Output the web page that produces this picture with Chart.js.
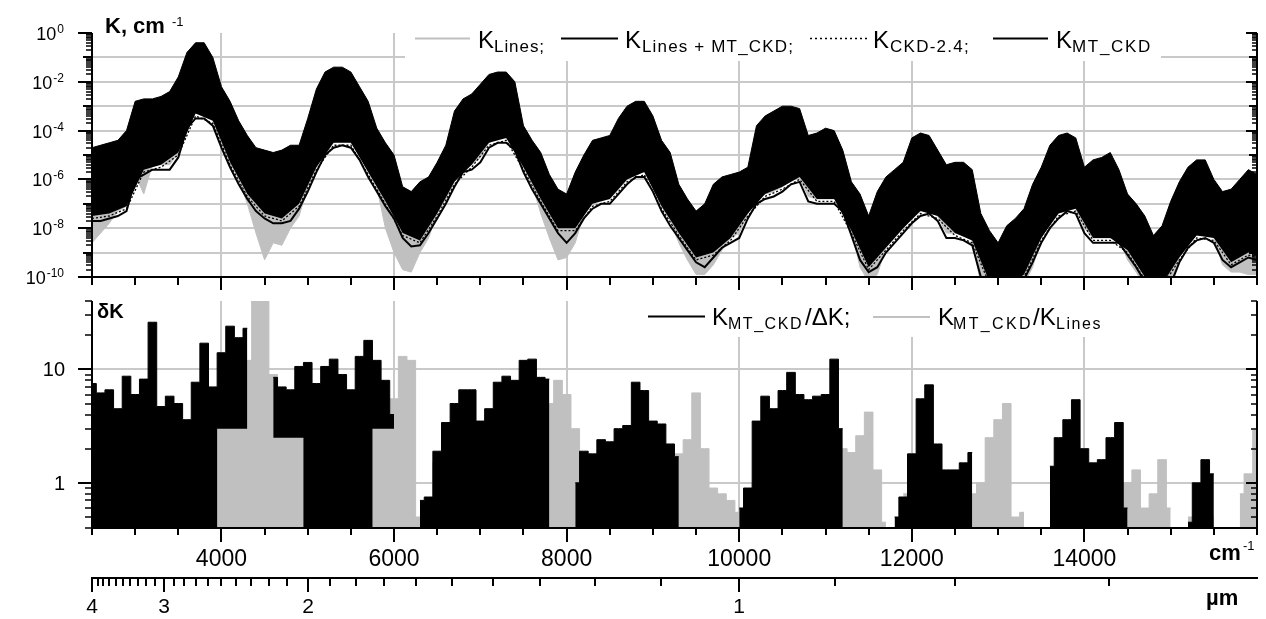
<!DOCTYPE html>
<html>
<head>
<meta charset="utf-8">
<script src="https://cdn.jsdelivr.net/npm/chart.js@4.4.1/dist/chart.umd.min.js"></script>
<style>
  html, body { margin: 0; padding: 0; background: #fff; }
  #wrap { position: relative; width: 1266px; height: 619px; }
  #wrap canvas { position: absolute; left: 0; top: 0; }
</style>
</head>
<body>
<div id="wrap">
  <canvas id="topChart" width="1266" height="619"></canvas>
  <canvas id="bottomChart" width="1266" height="619"></canvas>
</div>
<script>
// wavenumber grid, cm-1
const wn = [
  2500, 2600, 2700, 2800, 2900, 3000, 3100, 3200, 3300, 3400,
  3500, 3600, 3700, 3800, 3900, 4000, 4100, 4200, 4300, 4400,
  4500, 4600, 4700, 4800, 4900, 5000, 5100, 5200, 5300, 5400,
  5500, 5600, 5700, 5800, 5900, 6000, 6100, 6200, 6300, 6400,
  6500, 6600, 6700, 6800, 6900, 7000, 7100, 7200, 7300, 7400,
  7500, 7600, 7700, 7800, 7900, 8000, 8100, 8200, 8300, 8400,
  8500, 8600, 8700, 8800, 8900, 9000, 9100, 9200, 9300, 9400,
  9500, 9600, 9700, 9800, 9900, 10000, 10100, 10200, 10300, 10400,
  10500, 10600, 10700, 10800, 10900, 11000, 11100, 11200, 11300, 11400,
  11500, 11600, 11700, 11800, 11900, 12000, 12100, 12200, 12300, 12400,
  12500, 12600, 12700, 12800, 12900, 13000, 13100, 13200, 13300, 13400,
  13500, 13600, 13700, 13800, 13900, 14000, 14100, 14200, 14300, 14400,
  14500, 14600, 14700, 14800, 14900, 15000, 15100, 15200, 15300, 15400,
  15500, 15600, 15700, 15800, 15900, 16000
];
const wn200 = [
  2500, 2700, 2900, 3100, 3300, 3500, 3700, 3900, 4100, 4300,
  4500, 4700, 4900, 5100, 5300, 5500, 5700, 5900, 6100, 6300,
  6500, 6700, 6900, 7100, 7300, 7500, 7700, 7900, 8100, 8300,
  8500, 8700, 8900, 9100, 9300, 9500, 9700, 9900, 10100, 10300,
  10500, 10700, 10900, 11100, 11300, 11500, 11700, 11900, 12100, 12300,
  12500, 12700, 12900, 13100, 13300, 13500, 13700, 13900, 14100, 14300,
  14500, 14700, 14900, 15100, 15300, 15500, 15700, 15900, 16000
];

// top panel, log10(K, cm-1)
// upper edge of K_Lines+MT_CKD
const logKTop = [
  -4.7, -4.6, -4.5, -4.4, -4.0, -2.8, -2.7, -2.7, -2.6, -2.4,
  -1.8, -0.8, -0.4, -0.4, -1.0, -2.2, -2.8, -3.6, -4.2, -4.7,
  -4.8, -4.9, -4.8, -4.6, -4.6, -3.5, -2.3, -1.6, -1.4, -1.4,
  -1.6, -2.2, -2.8, -3.9, -4.5, -5.0, -6.3, -6.5, -6.1, -5.9,
  -5.3, -4.6, -3.2, -2.7, -2.5, -2.1, -1.7, -1.6, -1.6, -2.0,
  -3.8, -4.4, -4.9, -5.8, -6.4, -6.6, -5.7, -5.0, -4.4, -4.3,
  -4.2, -3.5, -3.0, -2.8, -2.8, -3.4, -4.4, -4.9, -6.2, -6.8,
  -7.3, -7.0, -6.2, -5.9, -5.8, -5.7, -5.5, -3.8, -3.4, -3.2,
  -3.0, -3.0, -3.1, -4.2, -4.1, -3.9, -4.0, -4.8, -6.1, -6.6,
  -7.5, -6.5, -5.9, -5.6, -5.3, -4.3, -4.1, -4.2, -4.8, -5.4,
  -5.3, -5.3, -5.6, -7.4, -8.1, -8.6, -7.9, -7.6, -7.2, -6.2,
  -5.5, -4.6, -4.2, -4.1, -4.3, -5.5, -5.2, -5.1, -4.9, -5.6,
  -6.6, -7.0, -7.5, -8.3, -7.9, -6.9, -6.1, -5.5, -5.2, -5.2,
  -6.0, -6.5, -6.4, -6.0, -5.6, -5.8
];
// lower edge of K_Lines+MT_CKD (on wn200)
const logKLow = [
  -7.5, -7.4, -7.1, -5.6, -5.4, -4.9, -3.3, -3.6, -5.3, -6.6,
  -7.4, -7.6, -7.0, -5.5, -4.5, -4.5, -5.7, -6.9, -8.2, -8.5,
  -7.4, -6.1, -5.4, -4.5, -4.3, -5.5, -6.8, -8.0, -8.0, -7.0,
  -6.8, -6.0, -5.7, -7.1, -8.2, -9.2, -9.0, -8.4, -7.4, -6.6,
  -6.3, -5.9, -6.8, -6.8, -8.1, -9.6, -8.8, -8.0, -7.3, -7.5,
  -8.2, -8.5, -10.2, -10.4, -9.9, -8.4, -7.4, -7.2, -8.4, -8.4,
  -8.9, -10.0, -10.3, -9.2, -8.3, -8.4, -9.4, -9.0, -9.1
];
// K_CKD-2.4 (on wn200)
const logCkd24 = [
  -7.6, -7.5, -7.2, -5.7, -5.5, -5.0, -3.4, -3.7, -5.4, -6.7,
  -7.5, -7.7, -7.1, -5.6, -4.6, -4.6, -5.8, -7.0, -8.3, -8.6,
  -7.5, -6.2, -5.5, -4.6, -4.4, -5.6, -6.9, -8.1, -8.1, -7.1,
  -6.9, -6.1, -5.8, -7.2, -8.3, -9.3, -9.1, -8.5, -7.5, -6.7,
  -6.4, -6.0, -6.9, -6.9, -8.2, -9.7, -8.9, -8.1, -7.4, -7.6,
  -8.3, -8.6, -10.3, -10.5, -10.0, -8.5, -7.5, -7.3, -8.5, -8.5,
  -9.0, -10.1, -10.4, -9.3, -8.4, -8.5, -9.5, -9.1, -9.2
];
// K_MT_CKD
const logMtCkd = [
  -7.7, -7.7, -7.6, -7.5, -7.3, -6.0, -5.8, -5.6, -5.6, -5.6,
  -5.1, -3.9, -3.5, -3.5, -3.8, -4.7, -5.5, -6.2, -6.8, -7.3,
  -7.6, -7.8, -7.8, -7.7, -7.2, -6.5, -5.7, -5.0, -4.7, -4.6,
  -4.7, -5.2, -5.9, -6.5, -7.1, -7.6, -8.4, -8.75, -8.7, -8.2,
  -7.6, -7.0, -6.3, -5.7, -5.6, -5.3, -4.7, -4.5, -4.5, -4.8,
  -5.7, -6.4, -7.0, -7.6, -8.2, -8.6, -8.2, -7.6, -7.2, -7.0,
  -7.0, -6.6, -6.2, -5.9, -5.9, -6.5, -7.3, -7.9, -8.4, -8.9,
  -9.4, -9.6, -9.2, -8.8, -8.6, -8.4, -7.6, -7.0, -6.8, -6.7,
  -6.5, -6.2, -6.1, -6.9, -7.0, -7.0, -7.0, -7.3, -8.3, -9.3,
  -9.8, -9.6, -9.0, -8.6, -8.2, -7.8, -7.5, -7.4, -7.7, -8.4,
  -8.4, -8.5, -8.7, -10.0, -10.4, -10.6, -10.6, -10.4, -10.1, -9.4,
  -8.6, -8.0, -7.6, -7.3, -7.4, -8.2, -8.6, -8.6, -8.6, -8.6,
  -9.1, -9.6, -10.2, -10.5, -10.5, -10.3, -9.4, -8.8, -8.5, -8.4,
  -8.6, -9.3, -9.6, -9.4, -9.2, -9.3
];
// lower edge of K_Lines
const logLinesMin = [
  -8.6, -8.2, -7.8, -7.3, -7.1, -5.8, -6.6, -5.4, -5.4, -5.4,
  -4.9, -3.7, -3.3, -3.3, -3.6, -4.5, -5.3, -6.0, -7.0, -8.2,
  -9.3, -8.6, -8.7, -8.0, -7.5, -6.3, -5.5, -4.8, -4.5, -4.4,
  -4.5, -5.0, -5.7, -6.3, -8.0, -9.0, -9.7, -9.8, -9.0, -8.4,
  -7.4, -6.8, -6.1, -5.5, -5.4, -5.1, -4.5, -4.3, -4.3, -4.6,
  -5.5, -6.2, -7.4, -8.4, -9.3, -9.2, -8.6, -7.4, -7.0, -6.8,
  -6.8, -6.4, -6.0, -5.7, -5.7, -6.3, -7.1, -7.7, -8.6, -9.3,
  -9.9, -9.9, -9.5, -8.9, -8.4, -8.2, -7.4, -6.8, -6.6, -6.5,
  -6.3, -6.0, -5.9, -6.7, -6.8, -6.8, -6.8, -7.1, -8.1, -9.6,
  -10.2, -9.9, -8.8, -8.4, -8.0, -7.6, -7.3, -7.2, -7.5, -8.2,
  -8.2, -8.3, -8.5, -10.3, -10.6, -10.8, -10.8, -10.6, -10.3, -9.6,
  -8.4, -7.8, -7.4, -7.1, -7.2, -8.0, -8.4, -8.4, -8.4, -8.4,
  -9.3, -9.8, -10.4, -10.7, -10.7, -10.5, -9.2, -8.6, -8.3, -8.2,
  -8.4, -9.5, -9.8, -9.8, -9.9, -9.9
];

// bottom panel, deltaK
// K_MT_CKD/dK, upper and lower edge
const dkMax = [
  7.5, 6.2, 6.6, 4.5, 8.7, 6.0, 8.2, 26, 4.7, 5.8,
  5.0, 3.6, 7.7, 17, 7.0, 14, 24, 19, 23, null,
  null, 8.5, 7.0, 6.6, 10.6, 11.5, 7.5, 10.6, 12.3, 9.0,
  6.6, 13, 18, 12, 8, 4, null, null, 0.7, 0.75,
  1.9, 3.4, 5.0, 6.6, 6.6, 3.5, 4.5, 7.7, 8.7, 8,
  12, 12.3, 8.5, 8.2, null, null, 1.0, 1.9, 1.8, 2.4,
  2.3, 3.0, 3.2, 7.7, 6.5, 3.5, 3.3, 2.2, 1.7, null,
  null, null, null, null, null, 0.6, 0.9, 3.5, 5.8, 4.5,
  6.5, 9.4, 6.0, 5.4, 5.8, 6.0, 12.3, 3.0, null, null,
  null, null, null, 0.5, 0.75, 1.8, 5.5, 7.3, 2.2, 1.3,
  1.3, 1.5, 1.85, null, null, null, null, null, null, null,
  null, 1.4, 2.5, 3.6, 5.4, 2.0, 1.5, 1.6, 2.5, 3.4,
  0.6, null, null, null, null, null, null, 0.45, 1.0, 1.6,
  1.2, null, null, null, null, null
];
const dkMin = [
  0.3, 0.3, 0.3, 0.3, 0.3, 0.3, 0.3, 0.3, 0.3, 0.3,
  0.3, 0.3, 0.3, 0.3, 0.3, 3.0, 3.0, 3.0, 3.0, null,
  null, 2.5, 2.5, 2.5, 2.5, 0.3, 0.3, 0.3, 0.3, 0.3,
  0.3, 0.3, 0.3, 3.0, 3.0, 3.0, null, null, 0.3, 0.3,
  0.3, 0.3, 0.3, 0.3, 0.3, 0.3, 0.3, 0.3, 0.3, 0.3,
  0.3, 0.3, 0.3, 0.3, null, null, 0.3, 0.3, 0.3, 0.3,
  0.3, 0.3, 0.3, 0.3, 0.3, 0.3, 0.3, 0.3, 0.3, null,
  null, null, null, null, null, 0.3, 0.3, 0.3, 0.3, 0.3,
  0.3, 0.3, 0.3, 0.3, 0.3, 0.3, 0.3, 0.3, null, null,
  null, null, null, 0.3, 0.3, 0.3, 0.3, 0.3, 0.3, 0.3,
  0.3, 0.3, 0.3, null, null, null, null, null, null, null,
  null, 0.3, 0.3, 0.3, 0.3, 0.3, 0.3, 0.3, 0.3, 0.3,
  0.3, null, null, null, null, null, null, 0.3, 0.3, 0.3,
  0.3, null, null, null, null, null
];
// K_MT_CKD/K_Lines, upper edge
const linesRatio = [
  2.0, 1.5, 1.8, 1.5, 2.0, 1.6, 1.8, 1.5, 1.4, 1.8,
  2.0, 1.6, 1.8, 2.5, 3.0, 3.5, 3.6, 3.6, 12, 40,
  40, 9, 3.6, 3.6, 3.5, 3.5, 3.0, 2.0, 1.8, 2.0,
  2.5, 3.5, 3.6, 3.6, 3.8, 5.5, 13, 12, 0.5, 0.45,
  1.5, 1.5, 1.5, 1.5, 1.5, 1.5, 1.5, 3.0, 3.0, 3.0,
  3.0, 3.0, 3.5, 5, 8, 6, 3, 1.2, 1.2, 1.2,
  1.2, 1.2, 1.2, 1.2, 1.2, 1.2, 1.2, 1.2, 1.8, 2.4,
  6.2, 2.0, 0.9, 0.8, 0.7, 0.55, 0.5, 1.0, 1.0, 1.0,
  1.0, 1.0, 1.0, 1.0, 1.0, 1.0, 1.0, 2.0, 1.85, 2.6,
  4.2, 1.3, 0.45, null, 0.8, 0.8, 0.8, 0.8, 0.8, 0.8,
  0.8, 0.8, 0.8, 1.0, 2.5, 3.6, 5.0, 0.5, 0.55, null,
  null, 0.8, 0.8, 0.8, 0.8, 0.8, 0.8, 0.8, 0.8, 0.8,
  1.0, 1.3, 0.6, 0.8, 1.6, 0.6, null, 0.5, 0.5, 0.5,
  0.5, null, null, 0.8, 1.2, 2.9
];

// axis ticks and labels
const wnTicks = [2500, 3000, 3500, 4000, 4500, 5000, 5500, 6000, 6500, 7000, 7500, 8000, 8500, 9000,
  9500, 10000, 10500, 11000, 11500, 12000, 12500, 13000, 13500, 14000, 14500, 15000, 15500, 16000];
const wnLabels = [4000, 6000, 8000, 10000, 12000, 14000];
const topExpLabels = [0, -2, -4, -6, -8, -10];
const bottomLabels = [10, 1];
const umMajor = [4, 3, 2, 1];
const umMinor = [3.9, 3.8, 3.7, 3.6, 3.5, 3.4, 3.3, 3.2, 3.1, 2.9, 2.8, 2.7, 2.6, 2.5, 2.4, 2.3, 2.2, 2.1,
  1.9, 1.8, 1.7, 1.6, 1.5, 1.4, 1.3, 1.2, 1.1, 0.9, 0.8, 0.7];

const GRID = '#c9c9c9';
const GREY = '#c0c0c0';
const FONT = '"Liberation Sans", Arial, sans-serif';

const logPts = (xs, ys) => xs.map((v, i) => ({ x: v, y: ys[i] == null ? null : Math.pow(10, ys[i]) }));
const pts = (xs, ys) => xs.map((v, i) => ({ x: v, y: ys[i] }));

function put(ctx, s, x, y, size, o) {
  o = o || {};
  ctx.font = (o.bold ? 'bold ' : '') + size + 'px ' + FONT;
  ctx.fillStyle = o.color || '#000';
  ctx.textAlign = o.align || 'left';
  ctx.textBaseline = 'alphabetic';
  ctx.letterSpacing = '0px';
  if (o.width) {
    const nat = ctx.measureText(s).width;
    ctx.letterSpacing = ((o.width - nat) / s.length).toFixed(2) + 'px';
  }
  ctx.fillText(s, x, y);
  const w = ctx.measureText(s).width;
  ctx.letterSpacing = '0px';
  return w;
}

function seg(ctx, x1, y1, x2, y2, w, c, dash) {
  ctx.save();
  ctx.beginPath();
  ctx.lineWidth = w;
  ctx.strokeStyle = c;
  ctx.setLineDash(dash || []);
  ctx.moveTo(x1, y1);
  ctx.lineTo(x2, y2);
  ctx.stroke();
  ctx.restore();
}

// y ticks of a log axis, drawn to the left of x0
function logTicks(ctx, scale, x0, lo, hi, lens, isLabeled) {
  for (let e = lo; e <= hi; e++) {
    for (let k = 1; k <= 9; k++) {
      const v = k * Math.pow(10, e);
      if (v < scale.min * 0.999 || v > scale.max * 1.001) continue;
      const py = Math.round(scale.getPixelForValue(v));
      let len = lens[2], w = 1.5;
      if (k === 1) { len = isLabeled(e) ? lens[0] : lens[1]; w = 2; }
      seg(ctx, x0 - len, py, x0, py, w, '#000');
    }
  }
}

function xTicks(ctx, scale, y0, minor, major) {
  wnTicks.forEach(v => {
    const px = Math.round(scale.getPixelForValue(v));
    const len = wnLabels.includes(v) ? major : minor;
    seg(ctx, px, y0, px, y0 + len, 2, '#000');
  });
}

function frame(ctx, a, top, bottom) {
  seg(ctx, a.left, top, a.left, bottom + 1, 2, '#000');
  seg(ctx, a.right, top, a.right, bottom + 1, 2, '#000');
  seg(ctx, a.left - 1, bottom, a.right + 1, bottom, 2, '#000');
}

const topPanel = {
  id: 'topPanel',
  beforeDatasetsDraw(chart) {
    const { ctx, chartArea: a, scales: { x, y } } = chart;
    for (let e = -9; e <= -1; e++) {
      const py = Math.round(y.getPixelForValue(Math.pow(10, e)));
      seg(ctx, a.left, py, a.right, py, 2, GRID);
    }
    wnLabels.forEach(v => {
      const px = Math.round(x.getPixelForValue(v));
      seg(ctx, px, a.top, px, a.bottom, 2, GRID);
    });
  },
  afterDatasetsDraw(chart) {
    const { ctx, chartArea: a, scales: { x, y } } = chart;
    frame(ctx, a, a.top, a.bottom);
    logTicks(ctx, y, a.left, -10, 0, [14, 9, 6], e => e % 2 === 0);
    logTicks(ctx, y, a.right, -10, 0, [11, 8, 5], e => e % 2 === 0);
    xTicks(ctx, x, a.bottom, 8, 13);
    topExpLabels.forEach(e => {
      const py = Math.round(y.getPixelForValue(Math.pow(10, e)));
      const ew = put(ctx, String(e), 64, py, 12, { align: 'right' });
      put(ctx, '10', 64 - ew - 1, py + 7, 18, { align: 'right' });
    });
  },
  afterDraw(chart) {
    const { ctx } = chart;
    // axis title
    put(ctx, 'K, cm', 105, 33, 22, { bold: true });
    put(ctx, '-1', 172, 26, 13);
    // legend
    ctx.fillStyle = '#fff';
    ctx.fillRect(405, 18, 756, 43);
    seg(ctx, 415, 38.5, 470, 38.5, 2, GREY);
    put(ctx, 'K', 478, 47.5, 24);
    put(ctx, 'Lines;', 494, 52, 17, { width: 51 });
    seg(ctx, 561, 38.5, 618, 38.5, 2, '#000');
    put(ctx, 'K', 625, 47.5, 24);
    put(ctx, 'Lines + MT_CKD;', 642, 52, 17, { width: 152 });
    seg(ctx, 810, 38.5, 870, 38.5, 1.5, '#000', [2, 3]);
    put(ctx, 'K', 873, 47.5, 24);
    put(ctx, 'CKD-2.4;', 890, 52, 17, { width: 80 });
    seg(ctx, 993, 38.5, 1048, 38.5, 2, '#000');
    put(ctx, 'K', 1056, 47.5, 24);
    put(ctx, 'MT_CKD', 1072, 52, 17, { width: 80 });
  }
};

const bottomPanel = {
  id: 'bottomPanel',
  beforeDatasetsDraw(chart) {
    const { ctx, chartArea: a, scales: { x, y } } = chart;
    bottomLabels.forEach(v => {
      const py = Math.round(y.getPixelForValue(v));
      seg(ctx, a.left, py, a.right, py, 2, GRID);
    });
    wnLabels.forEach(v => {
      const px = Math.round(x.getPixelForValue(v));
      seg(ctx, px, a.top, px, a.bottom, 2, GRID);
    });
  },
  afterDatasetsDraw(chart) {
    const { ctx, chartArea: a, scales: { x, y } } = chart;
    frame(ctx, a, a.top, a.bottom);
    logTicks(ctx, y, a.left, -1, 1, [14, 14, 7], () => true);
    logTicks(ctx, y, a.right, -1, 1, [11, 11, 6], () => true);
    xTicks(ctx, x, a.bottom, 7, 14);
    bottomLabels.forEach(v => {
      const py = Math.round(y.getPixelForValue(v));
      put(ctx, String(v), 65, py + 7, 20, { align: 'right' });
    });
    wnLabels.forEach(v => {
      put(ctx, String(v), x.getPixelForValue(v), 566, 23, { align: 'center' });
    });
    put(ctx, 'cm', 1209, 560, 22, { bold: true });
    put(ctx, '-1', 1243, 550, 13);

    // wavelength axis, um
    const yU = 578;
    seg(ctx, a.left - 1, yU, a.right + 1, yU, 2, '#000');
    umMinor.forEach(u => {
      const px = Math.round(x.getPixelForValue(1e4 / u));
      seg(ctx, px, yU, px, yU + 8, 2, '#000');
    });
    umMajor.forEach(u => {
      const px = Math.round(x.getPixelForValue(1e4 / u));
      seg(ctx, px, yU, px, yU + 14, 2, '#000');
      put(ctx, String(u), px, 613, 21, { align: 'center' });
    });
    put(ctx, '\u00b5m', 1206, 605, 22, { bold: true });
  },
  afterDraw(chart) {
    const { ctx } = chart;
    put(ctx, '\u03b4K', 97, 318, 20, { bold: true });
    ctx.fillStyle = '#fff';
    ctx.fillRect(640, 300, 472, 37);
    seg(ctx, 648, 316.5, 705, 316.5, 2, '#000');
    put(ctx, 'K', 712, 325, 24);
    put(ctx, 'MT_CKD', 728, 329, 16, { width: 75 });
    put(ctx, '/\u0394K;', 805, 325, 24);
    seg(ctx, 873, 317, 930, 317, 2, GREY);
    put(ctx, 'K', 938, 325, 24);
    put(ctx, 'MT_CKD', 953, 329, 16, { width: 80 });
    put(ctx, '/K', 1033, 325, 24);
    put(ctx, 'Lines', 1056, 329, 16, { width: 46 });
  }
};

function baseOptions(pad, yMin, yMax) {
  return {
    responsive: false,
    animation: false,
    events: [],
    layout: { padding: pad },
    plugins: { legend: { display: false }, tooltip: { enabled: false } },
    elements: { point: { radius: 0 }, line: { tension: 0 } },
    scales: {
      x: { type: 'linear', min: 2500, max: 16000, display: false },
      y: { type: 'logarithmic', min: yMin, max: yMax, display: false }
    }
  };
}

const topChart = new Chart(document.getElementById('topChart'), {
  type: 'line',
  data: {
    datasets: [
      {
        label: 'K_Lines',
        data: logPts(wn, logLinesMin),
        borderColor: GREY, backgroundColor: GREY, borderWidth: 1,
        fill: 1, order: 5
      },
      {
        label: 'K_Lines+MT_CKD',
        data: logPts(wn, logKTop),
        borderColor: '#000', backgroundColor: '#000', borderWidth: 1,
        fill: 2, order: 4
      },
      {
        label: 'band low',
        data: logPts(wn200, logKLow),
        borderWidth: 0, borderColor: 'rgba(0,0,0,0)', fill: false, order: 3
      },
      {
        label: 'K_CKD-2.4',
        data: logPts(wn200, logCkd24),
        borderColor: '#000', borderWidth: 1.3, borderDash: [2, 2], fill: false, order: 2
      },
      {
        label: 'K_MT_CKD',
        data: logPts(wn, logMtCkd),
        borderColor: '#000', borderWidth: 2, fill: false, order: 1
      }
    ]
  },
  options: baseOptions({ left: 92, right: 9, top: 33, bottom: 342 }, 1e-10, 1),
  plugins: [topPanel]
});

const bottomChart = new Chart(document.getElementById('bottomChart'), {
  type: 'line',
  data: {
    datasets: [
      {
        label: 'K_MT_CKD/K_Lines',
        data: pts(wn, linesRatio),
        borderColor: GREY, backgroundColor: GREY, borderWidth: 1,
        stepped: 'middle', fill: 'start', order: 3
      },
      {
        label: 'K_MT_CKD/dK',
        data: pts(wn, dkMax),
        borderColor: '#000', backgroundColor: '#000', borderWidth: 1,
        stepped: 'middle', fill: 2, order: 2
      },
      {
        label: 'dK low',
        data: pts(wn, dkMin),
        borderWidth: 0, borderColor: 'rgba(0,0,0,0)',
        stepped: 'middle', fill: false, order: 1
      }
    ]
  },
  options: baseOptions({ left: 92, right: 9, top: 301, bottom: 91 }, 0.4, 40),
  plugins: [bottomPanel]
});
</script>
</body>
</html>
